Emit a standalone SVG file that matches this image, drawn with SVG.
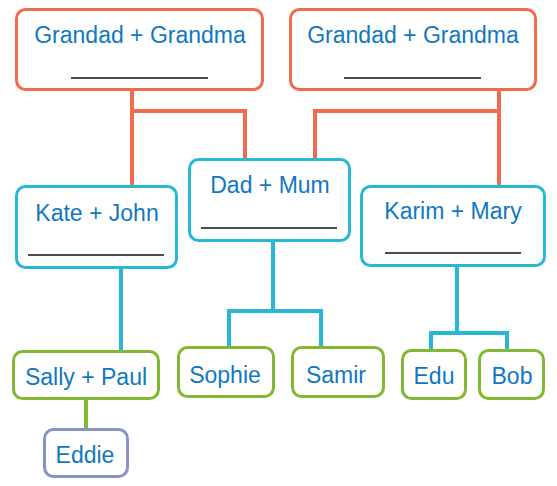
<svg xmlns="http://www.w3.org/2000/svg" width="557" height="486" viewBox="0 0 557 486">
<style>
.box{fill:#fff;stroke-width:3}
.o{stroke:#f26b4c}.b{stroke:#27b8d5}.g{stroke:#82b833}.p{stroke:#8a93c7}
.t{font-family:"Liberation Sans",Arial,sans-serif;font-size:23px;fill:#0f78c0;text-anchor:middle}
.u{stroke:#111;stroke-width:1.5}
.c{fill:none;stroke-width:4}
</style>
<rect width="557" height="486" fill="#fff"/>
<g id="connectors">
<path class="c o" d="M132 91V185M132 111H245V159M499 91V185M499 111H315V159"/>
<path class="c b" d="M121 269V350M273 241V311M229 347V311H321V347M457 266V333M431 350V333H507V350"/>
<path class="c g" d="M86 399V428"/>
</g>
<g id="grandparents1"><rect class="box o" x="16.5" y="9.5" width="246" height="80" rx="9"/><text class="t" x="140" y="43">Grandad + Grandma</text><line class="u" x1="71" y1="78" x2="208" y2="78"/></g>
<g id="grandparents2"><rect class="box o" x="290.5" y="9.5" width="245" height="80" rx="9"/><text class="t" x="413" y="43">Grandad + Grandma</text><line class="u" x1="344" y1="78" x2="481" y2="78"/></g>
<g id="kate-john"><rect class="box b" x="16.5" y="186.5" width="160" height="81" rx="9"/><text class="t" x="97" y="221">Kate + John</text><line class="u" x1="28" y1="255" x2="164" y2="255"/></g>
<g id="dad-mum"><rect class="box b" x="189.5" y="159.5" width="160" height="81" rx="9"/><text class="t" x="270" y="193">Dad + Mum</text><line class="u" x1="201" y1="228" x2="337" y2="228"/></g>
<g id="karim-mary"><rect class="box b" x="361.5" y="186.5" width="183" height="79" rx="9"/><text class="t" x="453" y="219">Karim + Mary</text><line class="u" x1="385" y1="253" x2="521" y2="253"/></g>
<g id="sally-paul"><rect class="box g" x="13.5" y="351.5" width="145" height="47" rx="9"/><text class="t" x="86" y="385">Sally + Paul</text></g>
<g id="eddie"><rect class="box p" x="44.5" y="429.5" width="83" height="47" rx="9"/><text class="t" x="85" y="463">Eddie</text></g>
<g id="sophie"><rect class="box g" x="178.5" y="347.5" width="95" height="49" rx="9"/><text class="t" x="225" y="383">Sophie</text></g>
<g id="samir"><rect class="box g" x="292.5" y="347.5" width="91" height="49" rx="9"/><text class="t" x="336" y="383">Samir</text></g>
<g id="edu"><rect class="box g" x="402.5" y="350.5" width="63" height="48" rx="9"/><text class="t" x="434" y="384">Edu</text></g>
<g id="bob"><rect class="box g" x="479.5" y="350.5" width="64" height="48" rx="9"/><text class="t" x="512" y="384">Bob</text></g>
</svg>
